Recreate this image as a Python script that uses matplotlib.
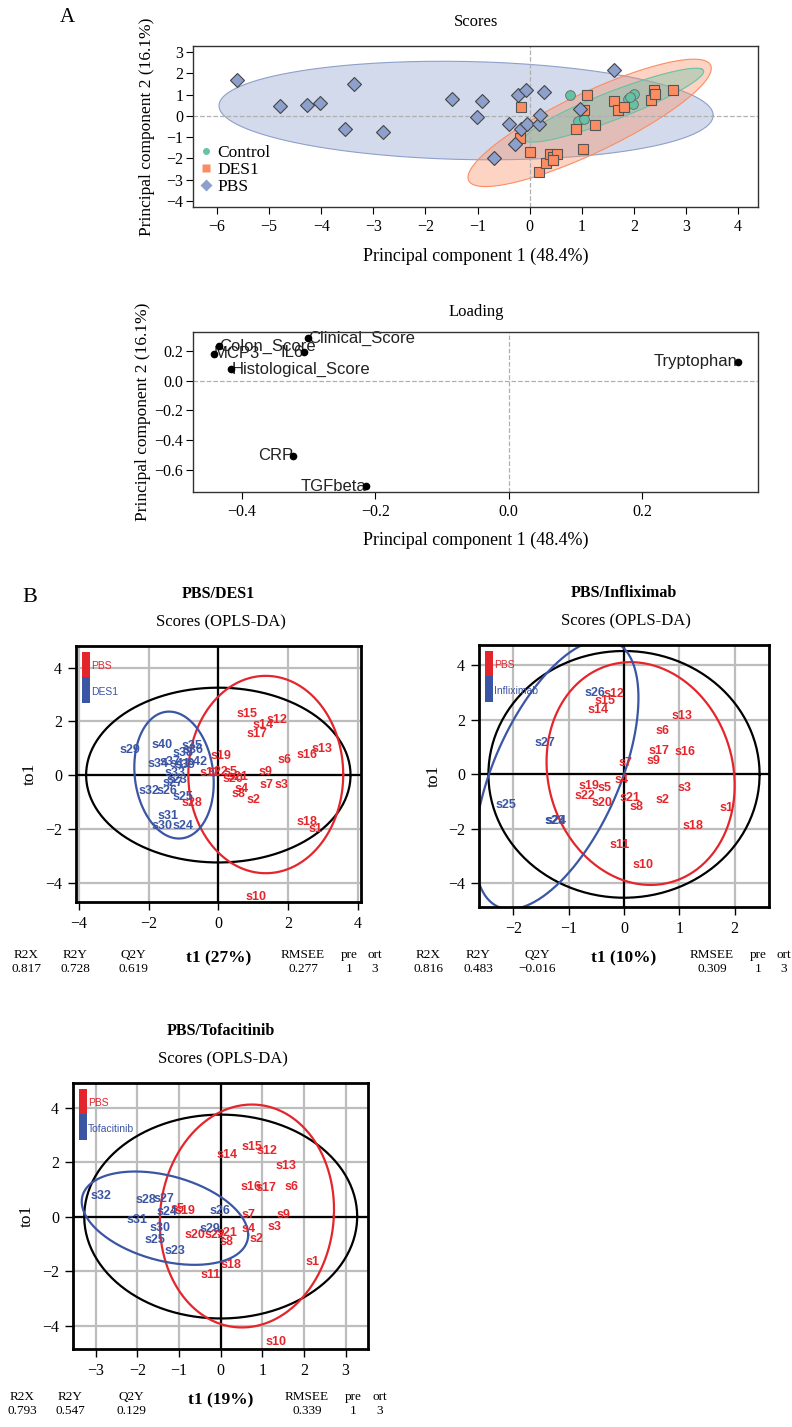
import numpy as np
import matplotlib.pyplot as plt
from matplotlib.lines import Line2D
from matplotlib.patches import Rectangle
from matplotlib.ticker import FuncFormatter

plt.rcParams['font.family'] = ['Liberation Serif', 'DejaVu Serif']
SANS = ['Liberation Sans', 'DejaVu Sans']

# ---------------- panel A: PCA scores ----------------
ctrl_x = [0.77, 0.92, 1.04, 1.89, 2.01, 1.99, 1.93]
ctrl_y = [1.00, -0.23, -0.16, 0.81, 1.02, 0.55, 0.89]

des1_x = [-0.16, -0.19, 0.00, 0.18, 0.32, 0.39, 0.45, 0.53, 0.45, 0.89, 1.02,
          1.25, 1.10, 1.04, 1.62, 1.70, 1.81, 2.33, 2.38, 2.41, 2.75]
des1_y = [0.41, -1.03, -1.69, -2.64, -2.20, -1.77, -1.92, -1.77, -2.05, -0.63, -1.56,
          -0.41, 0.97, 0.27, 0.69, 0.27, 0.42, 0.73, 1.20, 1.02, 1.23]

pbs_x = [-5.61, -4.80, -4.27, -4.02, -3.38, -3.54, -2.81, -1.49, -0.92, -1.01, -0.69,
         -0.23, -0.08, 0.28, -0.40, -0.16, -0.05, 0.17, 0.19, -0.28, 0.96, 1.62]
pbs_y = [1.67, 0.45, 0.53, 0.58, 1.48, -0.64, -0.78, 0.80, 0.70, -0.06, -2.00,
         1.00, 1.23, 1.11, -0.39, -0.64, -0.39, -0.39, 0.03, -1.30, 0.31, 2.14]

# ellipses: centre, first and second conjugate semi-axis vectors
pbs_ell = [(-1.22, 0.25), (4.74, -0.25), (0.05, 2.30)]
des1_ell = [(1.15, -0.33), (2.20, 2.93), (0.78, -0.60)]
ctrl_ell = [(1.62, 0.50), (1.68, 1.70), (0.36, -0.36)]

# ---------------- panel A: loadings ----------------
load_names = ['Colon_Score', 'MCP3', 'Histological_Score', 'Clinical_Score',
              'IL6', 'CRP', 'TGFbeta', 'Tryptophan']
load_x = [-0.434, -0.441, -0.415, -0.301, -0.307, -0.323, -0.213, 0.343]
load_y = [0.233, 0.182, 0.076, 0.287, 0.191, -0.507, -0.713, 0.127]
load_side = ['left', 'left', 'left', 'left', 'right', 'right', 'right', 'right']

# ---------------- panel B: OPLS-DA PBS/DES1 ----------------
d_pbs_names = ['s15', 's14', 's12', 's17', 's19', 's6', 's16', 's13', 's9', 's7', 's3',
               's4', 's8', 's2', 's18', 's1', 's10', 's11', 's22', 's5', 's20', 's21', 's28']
d_pbs_x = [0.81, 1.29, 1.67, 1.10, 0.08, 1.91, 2.53, 2.96, 1.36, 1.38, 1.81,
           0.67, 0.57, 1.00, 2.55, 2.80, 1.08, -0.24, 0.00, 0.34, 0.43, 0.57, -0.76]
d_pbs_y = [2.27, 1.88, 2.04, 1.52, 0.72, 0.56, 0.74, 0.97, 0.10, -0.38, -0.38,
           -0.50, -0.72, -0.93, -1.76, -2.00, -4.52, 0.06, 0.12, 0.10, -0.16, -0.06, -1.05]
d_trt_names = ['s29', 's40', 's35', 's36', 's38', 's34', 's37', 's41', 's42', 's39',
               's33', 's23', 's27', 's32', 's26', 's25', 's31', 's30', 's24']
d_trt_x = [-2.53, -1.62, -0.76, -0.72, -1.00, -1.72, -1.38, -1.10, -0.62, -0.95,
           -1.24, -1.19, -1.29, -2.00, -1.48, -1.00, -1.43, -1.62, -1.02]
d_trt_y = [0.93, 1.12, 1.08, 0.93, 0.83, 0.43, 0.49, 0.41, 0.49, 0.37,
           0.07, -0.19, -0.31, -0.58, -0.58, -0.81, -1.52, -1.89, -1.89]
d_ells = [[(0, 0), (3.79, 0), (0, 3.25)],
          [(1.36, 0.02), (2.22, 0), (0.0, 3.67)],
          [(-1.27, 0), (1.13, 0), (-0.14, 2.36)]]
d_stats = ['0.817', '0.728', '0.619', '0.277', '1', '3']

# ---------------- panel B: OPLS-DA PBS/Infliximab ----------------
i_pbs_names = ['s12', 's15', 's14', 's13', 's6', 's17', 's16', 's9', 's7', 's4', 's19',
               's5', 's22', 's20', 's21', 's8', 's2', 's3', 's1', 's18', 's11', 's10']
i_pbs_x = [-0.19, -0.35, -0.47, 1.04, 0.69, 0.64, 1.10, 0.54, 0.02, -0.04, -0.64,
           -0.35, -0.71, -0.40, 0.10, 0.22, 0.69, 1.10, 1.85, 1.25, -0.08, 0.34]
i_pbs_y = [2.94, 2.69, 2.35, 2.13, 1.60, 0.85, 0.81, 0.50, 0.41, -0.19, -0.44,
           -0.50, -0.78, -1.06, -0.88, -1.19, -0.94, -0.50, -1.25, -1.90, -2.59, -3.31]
i_trt_names = ['s26', 's27', 's25', 's23', 's24']
i_trt_x = [-0.52, -1.43, -2.13, -1.24, -1.23]
i_trt_y = [3.00, 1.15, -1.13, -1.73, -1.72]
i_ells = [[(0, 0), (2.45, 0), (0, 4.53)],
          [(0.30, 0.03), (1.69, 0), (-0.18, 4.09)],
          [(-1.22, 0), (1.22, 0), (0.84, 4.95)]]
i_stats = ['0.816', '0.483', '\u22120.016', '0.309', '1', '3']

# ---------------- panel B: OPLS-DA PBS/Tofacitinib ----------------
t_pbs_names = ['s15', 's12', 's14', 's13', 's16', 's17', 's6', 's7', 's9', 's3', 's4',
               's2', 's21', 's8', 's22', 's20', 's19', 's5', 's18', 's11', 's1', 's10']
t_pbs_x = [0.76, 1.10, 0.16, 1.56, 0.74, 1.08, 1.70, 0.67, 1.50, 1.30, 0.67,
           0.86, 0.15, 0.15, -0.13, -0.61, -0.85, -1.05, 0.24, -0.24, 2.20, 1.32]
t_pbs_y = [2.57, 2.41, 2.27, 1.86, 1.10, 1.04, 1.08, 0.06, 0.04, -0.38, -0.47,
           -0.83, -0.59, -0.92, -0.67, -0.67, 0.22, 0.27, -1.78, -2.14, -1.65, -4.62]
t_trt_names = ['s32', 's28', 's27', 's24', 's31', 's30', 's25', 's23', 's26', 's29']
t_trt_x = [-2.88, -1.81, -1.37, -1.29, -2.01, -1.45, -1.57, -1.09, -0.01, -0.25]
t_trt_y = [0.74, 0.61, 0.64, 0.15, -0.12, -0.43, -0.86, -1.25, 0.22, -0.46]
t_ells = [[(0, 0), (3.28, 0), (0, 3.74)],
          [(0.63, 0.02), (2.09, 0), (0.12, 4.09)],
          [(-1.34, -0.06), (2.00, -0.61), (0, 1.60)]]
t_stats = ['0.793', '0.547', '0.129', '0.339', '1', '3']

stat_names = ['R2X', 'R2Y', 'Q2Y', 'RMSEE', 'pre', 'ort']

W, H = 792, 1427
fig = plt.figure(figsize=(W / 100, H / 100), dpi=100)
fig.patch.set_facecolor('white')


def add_box(l, t, r, b):
    return fig.add_axes([l / W, 1 - b / H, (r - l) / W, (b - t) / H])


def ftext(x, y, s, **kw):
    ha = kw.pop('ha', 'center')
    va = kw.pop('va', 'center')
    fig.text(x / W, 1 - y / H, s, ha=ha, va=va, **kw)


def ellipse_xy(c, u, v):
    t = np.linspace(0, 2 * np.pi, 240)
    return (c[0] + u[0] * np.cos(t) + v[0] * np.sin(t),
            c[1] + u[1] * np.cos(t) + v[1] * np.sin(t))


def dec1(v, pos):
    s = f'{v:.1f}'
    if s == '-0.0':
        s = '0.0'
    return s.replace('-', '\u2212')


c_ctrl, c_des1, c_pbs = '#66c2a5', '#fc8d62', '#8da0cb'

# ---- A: scores ----
ax = add_box(193, 46, 758, 207)
for ell, col in [(pbs_ell, c_pbs), (des1_ell, c_des1), (ctrl_ell, c_ctrl)]:
    ex, ey = ellipse_xy(*ell)
    ax.fill(ex, ey, facecolor=col, alpha=0.38, edgecolor='none', zorder=1)
    ax.plot(ex, ey, color=col, lw=0.8, zorder=1)
ax.axhline(0, color='#b0b0b0', ls='--', lw=0.9, zorder=2)
ax.axvline(0, color='#b0b0b0', ls='--', lw=0.9, zorder=2)
ax.plot(ctrl_x, ctrl_y, 'o', ms=7, mfc=c_ctrl, mec='#666666', mew=0.6, zorder=3)
ax.plot(des1_x, des1_y, 's', ms=7, mfc=c_des1, mec='#555555', mew=0.8, zorder=3)
ax.plot(pbs_x, pbs_y, 'D', ms=7.5, mfc=c_pbs, mec='#444444', mew=0.8, zorder=3)
ax.set_xlim(-6.46, 4.38)
ax.set_ylim(-4.28, 3.28)
ax.set_xticks(range(-6, 5))
ax.set_yticks(range(-4, 4))
ax.tick_params(labelsize=11.5, length=5, width=0.8)
ax.tick_params(axis='y', pad=2)
for s in ax.spines.values():
    s.set_linewidth(1.0)
    s.set_color('#333333')
handles = [Line2D([], [], ls='none', marker='o', ms=5, mfc=c_ctrl, mec='none'),
           Line2D([], [], ls='none', marker='s', ms=6, mfc=c_des1, mec='none'),
           Line2D([], [], ls='none', marker='D', ms=6, mfc=c_pbs, mec='none')]
ax.legend(handles, ['Control', 'DES1', 'PBS'], loc='lower left', bbox_to_anchor=(0.0, 0.03),
          frameon=False, fontsize=12.5, handlelength=0.7, handletextpad=0.3,
          labelspacing=0.05, borderaxespad=0.2, borderpad=0.2)
ftext(67, 18, 'A', fontsize=15)
ftext(476, 22, 'Scores', fontsize=12)
ftext(476, 256, 'Principal component 1 (48.4%)', fontsize=13)
ftext(147, 127, 'Principal component 2 (16.1%)', fontsize=12.5, rotation=90)

# ---- A: loadings ----
ax = add_box(193, 332, 758, 492)
ax.axhline(0, color='#b0b0b0', ls='--', lw=0.9, zorder=1)
ax.axvline(0, color='#b0b0b0', ls='--', lw=0.9, zorder=1)
for name, x, y, side in zip(load_names, load_x, load_y, load_side):
    ax.text(x, y, name, ha=side, va='center', fontsize=12, family=SANS,
            color='#222222', zorder=2)
ax.plot(load_x, load_y, 'o', ms=4.5, color='black', zorder=3)
ax.set_xlim(-0.4726, 0.373)
ax.set_ylim(-0.751, 0.327)
ax.set_xticks([-0.4, -0.2, 0.0, 0.2])
ax.set_yticks([-0.6, -0.4, -0.2, 0.0, 0.2])
ax.xaxis.set_major_formatter(FuncFormatter(dec1))
ax.yaxis.set_major_formatter(FuncFormatter(dec1))
ax.tick_params(labelsize=11.5, length=5, width=0.8)
ax.tick_params(axis='y', pad=2)
for s in ax.spines.values():
    s.set_linewidth(1.0)
    s.set_color('#333333')
ftext(476, 312, 'Loading', fontsize=12)
ftext(476, 540, 'Principal component 1 (48.4%)', fontsize=13)
ftext(143, 412, 'Principal component 2 (16.1%)', fontsize=12.5, rotation=90)

# ---- B: OPLS-DA panels ----
RED, BLUE = '#e4262c', '#3b55a5'


def opls(box, xlim, ylim, xticks, yticks, pbs, trt, trt_name, ells, stats,
         title, t1, stat_x, stat_y, ylab_x):
    l, t, r, b = box
    ax = add_box(l, t, r, b)
    for v in xticks:
        ax.axvline(v, color='#bdbdbd', lw=1.6, zorder=0)
    for v in yticks:
        ax.axhline(v, color='#bdbdbd', lw=1.6, zorder=0)
    ax.axvline(0, color='black', lw=1.6, zorder=1)
    ax.axhline(0, color='black', lw=1.6, zorder=1)
    for ell, col in zip(ells, ['black', RED, BLUE]):
        ex, ey = ellipse_xy(*ell)
        ax.plot(ex, ey, color=col, lw=1.6, zorder=2)
    for (names, xs, ys), col in [(pbs, RED), (trt, BLUE)]:
        for n, x, y in zip(names, xs, ys):
            ax.text(x, y, n, color=col, fontsize=9, fontweight='bold', family=SANS,
                    ha='center', va='center', zorder=3, clip_on=True)
    ax.set_xlim(*xlim)
    ax.set_ylim(*ylim)
    ax.set_xticks(xticks)
    ax.set_yticks(yticks)
    ax.tick_params(labelsize=11.5, length=6, width=1.0, pad=4)
    for s in ax.spines.values():
        s.set_linewidth(2.0)
    # colour legend
    fig.add_artist(Rectangle(((l + 6) / W, 1 - (t + 31) / H), 8 / W, 25 / H,
                             transform=fig.transFigure, color=RED, lw=0))
    fig.add_artist(Rectangle(((l + 6) / W, 1 - (t + 57) / H), 8 / W, 26 / H,
                             transform=fig.transFigure, color=BLUE, lw=0))
    ftext(l + 15, t + 20, 'PBS', ha='left', color=RED, fontsize=7.5, family=SANS)
    ftext(l + 15, t + 46, trt_name, ha='left', color=BLUE, fontsize=7.5, family=SANS)
    cx = (l + r) / 2
    ftext(cx, t - 52, title, fontsize=11.5, fontweight='bold')
    ftext(cx + 2, t - 24, 'Scores (OPLS-DA)', fontsize=12)
    ftext(ylab_x, (t + b) / 2, 'to1', fontsize=12.5, rotation=90)
    ftext(cx, stat_y + 2, t1, fontsize=12.5, fontweight='bold')
    for sx, sn, sv in zip(stat_x, stat_names, stats):
        ftext(sx, stat_y - 1, sn, fontsize=9.5)
        ftext(sx, stat_y + 13, sv, fontsize=9.5)


opls((76, 646, 361, 902), (-4.08, 4.09), (-4.72, 4.8), [-4, -2, 0, 2, 4], [-4, -2, 0, 2, 4],
     (d_pbs_names, d_pbs_x, d_pbs_y), (d_trt_names, d_trt_x, d_trt_y), 'DES1', d_ells,
     d_stats, 'PBS/DES1', 't1 (27%)', [26, 75, 133, 303, 349, 375], 956, 30)

opls((479, 645, 769, 907), (-2.62, 2.62), (-4.87, 4.75), [-2, -1, 0, 1, 2], [-4, -2, 0, 2, 4],
     (i_pbs_names, i_pbs_x, i_pbs_y), (i_trt_names, i_trt_x, i_trt_y), 'Infliximab', i_ells,
     i_stats, 'PBS/Infliximab', 't1 (10%)', [428, 478, 537, 712, 758, 784], 956, 434)

opls((73, 1083, 368, 1349), (-3.55, 3.54), (-4.86, 4.9), [-3, -2, -1, 0, 1, 2, 3],
     [-4, -2, 0, 2, 4],
     (t_pbs_names, t_pbs_x, t_pbs_y), (t_trt_names, t_trt_x, t_trt_y), 'Tofacitinib', t_ells,
     t_stats, 'PBS/Tofacitinib', 't1 (19%)', [22, 70, 131, 307, 353, 380], 1398, 27)

ftext(30, 597, 'B', fontsize=16)

fig.savefig('out.png', dpi=100)
